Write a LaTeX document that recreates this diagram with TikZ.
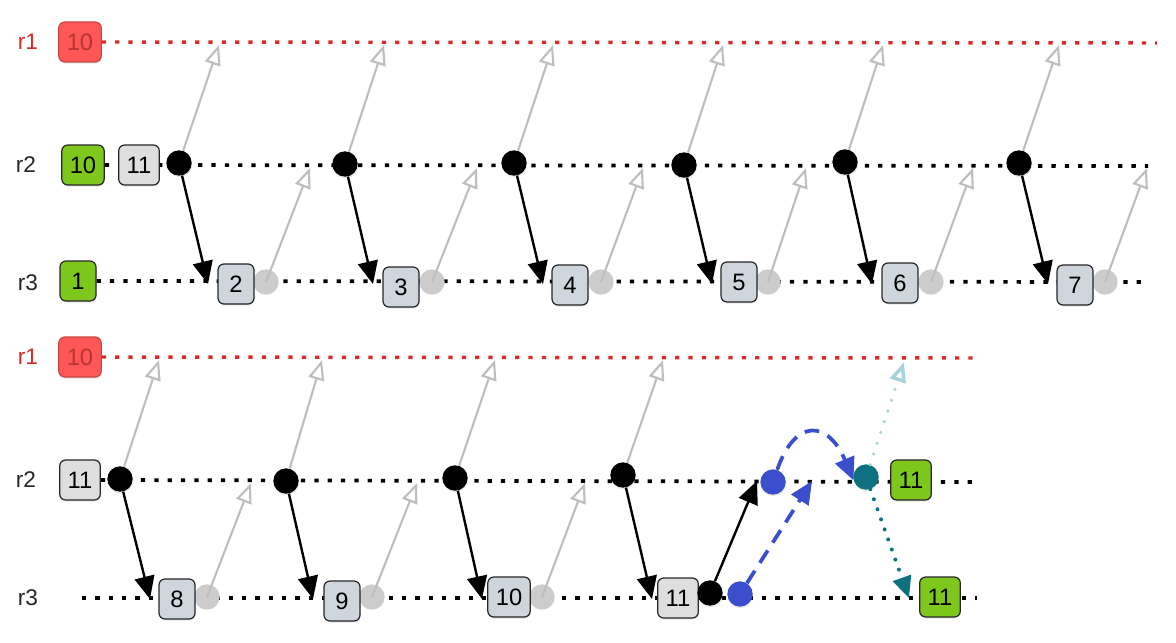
\documentclass[tikz,border=0pt]{standalone}
\usepackage{fontspec}
\setmainfont{Liberation Sans}
\usetikzlibrary{arrows.meta,backgrounds,positioning,shadows}
\definecolor{redfill}{HTML}{FF5757}
\definecolor{redtext}{HTML}{B83333}
\definecolor{redline}{HTML}{D92B2B}
\definecolor{grnfill}{HTML}{7EC81E}
\definecolor{boxgray}{HTML}{CFD5DD}
\definecolor{boxlite}{HTML}{DEDEDE}
\definecolor{ghostgray}{HTML}{CCCCCC}
\definecolor{arrgray}{HTML}{BEBEBE}
\definecolor{msgblue}{HTML}{3B4FCC}
\definecolor{tealc}{HTML}{0E717F}
\definecolor{tealpale}{HTML}{A6D2DA}
\tikzset{
  lane/.style    ={draw=black,line width=2.8pt,dash pattern=on 3.2pt off 6.8pt},
  lanered/.style ={lane,draw=redline,line width=2.6pt},
  lbl/.style     ={font=\fontsize{17}{19}\selectfont,text=black!85,inner sep=0pt},
  lblred/.style  ={lbl,text=redline},
  soft/.style    ={drop shadow={shadow xshift=0.4pt,shadow yshift=-1.2pt,opacity=0.18}},
  entry/.style   ={draw=black!85,line width=0.9pt,rounded corners=4.5pt,fill=boxgray,
                   minimum width=27pt,minimum height=30pt,inner xsep=6pt,inner ysep=0pt,
                   font=\fontsize{17.8}{20}\selectfont,soft},
  entlite/.style ={entry,fill=boxlite},
  entgrn/.style  ={entry,fill=grnfill},
  entred/.style  ={entry,fill=redfill,draw=redfill!80!black,text=redtext},
  evt/.style     ={circle,fill=black,minimum size=19pt,inner sep=0pt,soft},
  ghost/.style   ={circle,fill=ghostgray,minimum size=19pt,inner sep=0pt},
  bluedot/.style ={evt,fill=msgblue},
  tealdot/.style ={evt,fill=tealc},
  down/.style    ={-{Triangle[length=17pt,width=15pt]},draw=black,line width=1.8pt},
  fade/.style    ={-{Triangle[open,length=15pt,width=12pt]},draw=arrgray,line width=1.6pt},
  bluedash/.style={-{Triangle[length=17pt,width=15pt]},draw=msgblue,line width=2.8pt,
                   dash pattern=on 11pt off 7pt},
  tealdots/.style={-{Triangle[length=16pt,width=14pt]},draw=tealc,line width=3pt,
                   line cap=round,dash pattern=on 0pt off 8pt},
  palelink/.style={-{Triangle[open,length=15pt,width=12pt]},draw=tealpale,line width=2.6pt,
                   line cap=round,dash pattern=on 0pt off 8.5pt},
}

\begin{document}
\begin{tikzpicture}[x=0.75pt,y=-0.75pt]
\useasboundingbox (0,0) rectangle (1176,642);

%% ---------------- upper trace ----------------
\node[lblred] (t1lab) at (28,42)  {r1};
\node[lbl]    (t2lab) at (26,165) {r2};
\node[lbl]    (t3lab) at (28,283) {r3};

\node[entred] (t1src) at (80,42)  {10};
\node[entgrn] (t2a)   at (83,165) {10};
\node[entlite](t2b)   at (139,165){11};
\node[entgrn] (t3a)   at (78,281) {1};

\coordinate (t1end) at (1157,43);
\coordinate (t2end) at (1148,166);
\coordinate (t3end) at (1146,282);

%% events on r2, entries and acks on r3
\foreach \i/\dx/\dy/\bx/\by/\lab/\cx in {1/179/163/236/284/2/266, 2/345/164/401/287/3/432,
    3/514/163/570/285/4/601, 4/684/165/739/282/5/768, 5/845/162/900/283/6/931,
    6/1019/163/1075/285/7/1105}{
  \node[ghost] (tc\i) at (\cx,282) {};
  \node[evt]   (td\i) at (\dx,\dy) {};
  \node[entry] (tb\i) at (\bx,\by) {\lab};
}

\foreach \i/\ux/\rx/\tx in {1/219/310/208, 2/384/477/373, 3/553/643/543,
    4/723/806/712, 5/883/973/872, 6/1059/1147/1048}{
  \coordinate (tu\i) at (\ux,45);
  \coordinate (tr\i) at (\rx,168);
  \coordinate (tt\i) at (\tx,284);
  \draw[fade] (td\i) -- (tu\i);
  \draw[fade] (tc\i.center) -- (tr\i);
  \draw[down] (td\i) -- (tt\i);
}

%% ---------------- lower trace ----------------
\node[lblred] (b1lab) at (28,357) {r1};
\node[lbl]    (b2lab) at (26,480) {r2};
\node[lbl]    (b3lab) at (28,598) {r3};

\node[entred] (b1src) at (80,357) {10};
\node[entlite](b2a)   at (80,480) {11};

\coordinate (b1end)   at (975,358);
\coordinate (b2end)   at (973,482);
\coordinate (b3start) at (82,598);
\coordinate (b3end)   at (977,598);

\foreach \i/\dx/\dy/\bx/\by/\lab/\cx in {1/120/479/177/599/8/207,
    2/286/481/342/601/9/372, 3/455/478/509/597/10/542}{
  \node[ghost] (bc\i) at (\cx,597) {};
  \node[evt]   (bd\i) at (\dx,\dy) {};
  \node[entry] (bb\i) at (\bx,\by) {\lab};
}
\node[evt]     (bd4) at (623,475) {};
\node[entlite] (bb4) at (678,598) {11};

\foreach \i/\ux/\tx in {1/159/150, 2/322/313, 3/495/482, 4/663/652}{
  \coordinate (bu\i) at (\ux,360);
  \coordinate (bt\i) at (\tx,599);
  \draw[fade] (bd\i) -- (bu\i);
  \draw[down] (bd\i) -- (bt\i);
}
\foreach \i/\rx in {1/251, 2/417, 3/585}{
  \coordinate (br\i) at (\rx,483);
  \draw[fade] (bc\i.center) -- (br\i);
}

%% election messages
\node[evt]      (bk)  at (710,593) {};
\node[bluedot]  (bl1) at (740,594) {};
\node[bluedot]  (bl2) at (773,482) {};
\node[tealdot]  (tl)  at (866,477) {};
\node[entgrn]   (b2g) at (911,480) {11};
\node[entgrn]   (b3g) at (940,597) {11};

\coordinate (bkup)  at (757,481);
\coordinate (bl1up) at (812,481);
\coordinate (tlup)  at (904,362);
\coordinate (tldn)  at (909,598);

\draw[down] (bk) -- (bkup);
\draw[bluedash] (bl1) -- (bl1up);
\draw[bluedash] (bl2) .. controls (795,418) and (828,420) .. (tl.195);
\draw[palelink] (tl) -- (tlup);
\draw[tealdots] (tl) -- (tldn);

%% ---------------- lanes ----------------
\begin{scope}[on background layer]
  \draw[lanered] (t1src.east) -- (t1end);
  \draw[lane]    (t2a.east)   -- (t2end);
  \draw[lane]    (t3a.east)   -- (t3end);
  \draw[lanered] (b1src.east) -- (b1end);
  \draw[lane]    (b2a.east)   -- (b2end);
  \draw[lane]    (b3start)    -- (b3end);
\end{scope}

\end{tikzpicture}
\end{document}
